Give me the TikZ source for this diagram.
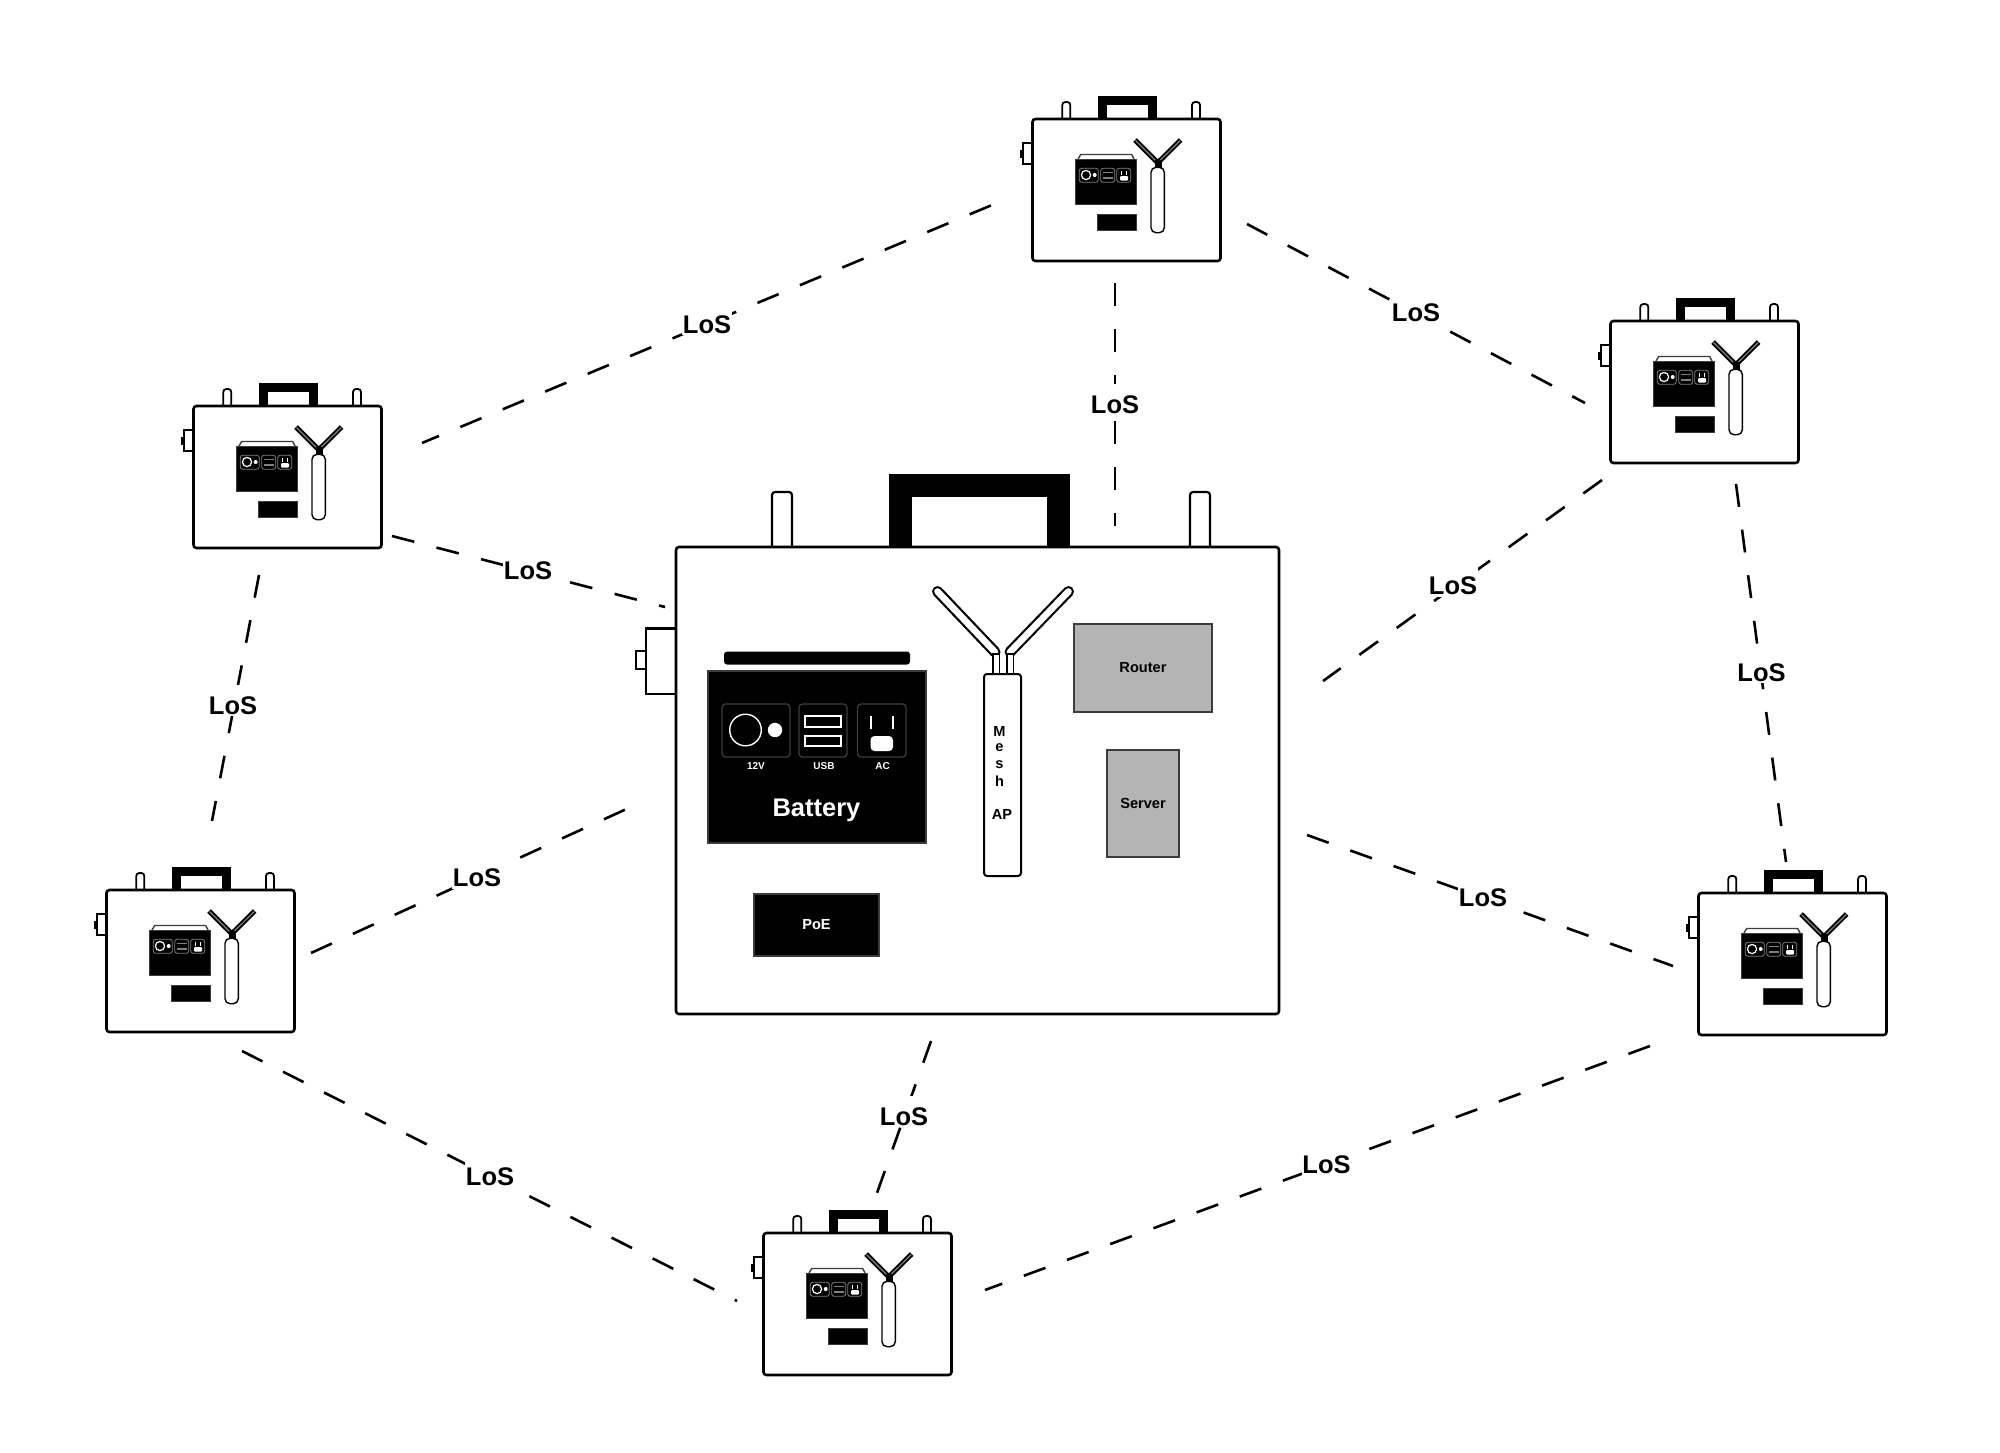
\documentclass[tikz,border=0pt]{standalone}
\usepackage{fontspec}
\setmainfont{Liberation Sans}
\usetikzlibrary{calc}
\newcommand{\fs}[1]{\fontsize{#1pt}{#1pt}\selectfont\bfseries}
\definecolor{panelgray}{HTML}{B4B4B4}
\definecolor{edgegray}{HTML}{3C3C3C}
\tikzset{
  x=1pt,y=-1pt,
  every node/.style={outer sep=0pt},
  shell/.style={draw=black,fill=white,line width=2.6pt,rounded corners=3pt,inner sep=0pt},
  solidbox/.style={draw=edgegray,fill=black,line width=1.6pt,inner sep=0pt},
  graybox/.style={draw=edgegray,fill=panelgray,line width=2pt,inner sep=0pt,text=black,font=\fs{14.6}},
  portbox/.style={draw=edgegray,line width=1.3pt,rounded corners=3.5pt},
  apbody/.style={draw=black,fill=white,line width=2pt,rounded corners=3pt,inner sep=0pt},
  link/.style={draw=black,line width=2.6pt,dash pattern=on 23pt off 23pt},
  loslabel/.style={fill=white,inner xsep=0.5pt,inner ysep=0pt,font=\fs{25.5},text=black,text height=29pt,text depth=2pt,yshift=4.5pt},
  portlabel/.style={text=white,inner sep=0pt,font=\fs{10}},
  % small field kit: origin is the top-left corner of the case
  pics/fieldkit/.style={code={
    \draw[draw=black,fill=white,line width=1.8pt,rounded corners=3pt] (30.3,3) -- (30.3,-17) -- (38.3,-17) -- (38.3,3);
    \draw[draw=black,fill=white,line width=1.8pt,rounded corners=3pt] (160,3) -- (160,-17) -- (168,-17) -- (168,3);
    \fill[black] (66,1) rectangle (125,-23);
    \fill[white] (75,1) rectangle (116,-14);
    \draw[draw=black,fill=white,line width=1.6pt] (-9,24) rectangle (0,45);
    \draw[draw=black,fill=black,line width=0.8pt] (-12,31) rectangle (-9,38);
    \node[shell,anchor=north west,minimum width=188pt,minimum height=142pt] (-case) at (0.5,0) {};
    \draw[draw=edgegray,line width=1.4pt] (46,40) -- (48.7,35.5) -- (99.7,35.5) -- (102,40);
    \node[solidbox,line width=0.8pt,anchor=north west,minimum width=60.3pt,minimum height=45.7pt] (-pack) at (43.7,40) {};
    \draw[draw=gray,line width=0.8pt,rounded corners=2.5pt] (47.3,49.3) rectangle (66.3,63.3);
    \draw[draw=gray,line width=0.8pt,rounded corners=2.5pt] (68.7,49.3) rectangle (82.7,63.3);
    \draw[draw=gray,line width=0.8pt,rounded corners=2.5pt] (84.7,49.3) rectangle (98.7,63.3);
    \draw[white,line width=1.2pt] (54,56) circle (4.6);
    \fill[white] (62.7,56) circle (2);
    \draw[gray,line width=1.2pt] (71,53.5) -- (80.5,53.5);
    \draw[gray,line width=1.2pt] (71,59) -- (80.5,59);
    \fill[white] (89,52) rectangle (90,55.5);
    \fill[white] (93.5,52) rectangle (94.5,55.5);
    \fill[white,rounded corners=1pt] (88,57) rectangle (96,61.5);
    \node[solidbox,line width=0.8pt,anchor=north west,minimum width=39pt,minimum height=15.7pt] (-poe) at (65.7,95.3) {};
    \draw[black,line width=5pt,line cap=butt] (103,21) -- (124.5,42.5);
    \draw[black,line width=5pt,line cap=butt] (148.7,21) -- (127,42.5);
    \draw[gray,line width=1.2pt] (103.5,21.5) -- (124.5,42.5);
    \draw[gray,line width=1.2pt] (148.2,21.5) -- (127,42.5);
    \fill[black] (122.5,41) rectangle (129.5,50);
    \node[apbody,line width=1.4pt,rounded corners=5pt,anchor=north west,minimum width=13.3pt,minimum height=65.4pt] (-ap) at (119,48.3) {};
  }}
}
\begin{document}
\begin{tikzpicture}
\useasboundingbox (0,0) rectangle (2000,1452);
\fill[white] (0,0) rectangle (2000,1452);

% outer ends of the line-of-sight links
\coordinate (a1) at (422,443);   \coordinate (a2) at (992,205);
\coordinate (b1) at (1247,224);  \coordinate (b2) at (1585,403);
\coordinate (c1) at (1115,283);  \coordinate (c2) at (1115,526);
\coordinate (d1) at (1602,480);  \coordinate (d2) at (1323,681);
\coordinate (e1) at (1736,484);  \coordinate (e2) at (1786,862);
\coordinate (f1) at (1307,835);  \coordinate (f2) at (1673,966);
\coordinate (g1) at (1650,1046); \coordinate (g2) at (985,1290);
\coordinate (h1) at (931,1041);  \coordinate (h2) at (877,1193);
\coordinate (i1) at (242,1051);  \coordinate (i2) at (737,1301);
\coordinate (j1) at (311,953);   \coordinate (j2) at (644,801);
\coordinate (k1) at (392,536);   \coordinate (k2) at (665,607);
\coordinate (l1) at (259,575);   \coordinate (l2) at (212,821);

% field kits around the central station
\pic (kita) at (1032,119) {fieldkit};
\pic (kitb) at (1610,321) {fieldkit};
\pic (kitc) at (193,406) {fieldkit};
\pic (kitd) at (106,890) {fieldkit};
\pic (kite) at (1698,893) {fieldkit};
\pic (kitf) at (763,1233) {fieldkit};

% central station: posts, handle and latch behind the case
\draw[draw=black,fill=white,line width=2.2pt,rounded corners=3pt] (772,550) -- (772,492) -- (792,492) -- (792,550);
\draw[draw=black,fill=white,line width=2.2pt,rounded corners=3pt] (1190,550) -- (1190,492) -- (1210,492) -- (1210,550);
\fill[black] (889,549) rectangle (1070,474);
\fill[white] (912,549) rectangle (1047,497);
\draw[draw=black,fill=white,line width=2.2pt] (646,628.5) rectangle (676,694);
\draw[draw=black,fill=white,line width=2pt] (636,651) rectangle (646,669);
\node[shell,minimum width=603pt,minimum height=467pt,anchor=north west] (main) at (676,547) {};

% battery pack
\node[draw=none,fill=black,rounded corners=3pt,minimum width=186pt,minimum height=13pt,inner sep=0pt] (bar) at (817,658) {};
\node[solidbox,minimum width=218pt,minimum height=172pt,anchor=north west] (pack) at (708,671) {};
\draw[portbox] (722,704) rectangle (790,757);
\draw[portbox] (799,704) rectangle (847,757);
\draw[portbox] (857.5,704) rectangle (906,757);
\draw[white,line width=1.4pt] (745.5,730) circle (15.8);
\fill[white] (775,730) circle (7.2);
\draw[draw=white,line width=2.2pt,fill=black] (805,716) rectangle (841,727);
\draw[draw=white,line width=2.2pt,fill=black] (805,736) rectangle (841,746);
\fill[white] (870,715.5) rectangle (872,729);
\fill[white] (892,715.5) rectangle (894,729);
\fill[white,rounded corners=4pt] (870.5,736) rectangle (893,751);
\node[portlabel] (l12v) at (756,766) {12V};
\node[portlabel] (lusb) at (824,766) {USB};
\node[portlabel] (lac) at (882.5,766) {AC};
\node[text=white,inner sep=0pt,font=\fs{25.5}] (lbat) at (816.5,810.5) {Battery};

% injector, router and server
\node[solidbox,text=white,font=\fs{14.6},minimum width=125pt,minimum height=62pt] (poe) at (816.5,925) {PoE};
\node[graybox,minimum width=138pt,minimum height=88pt] (router) at (1143,668) {Router};
\node[graybox,minimum width=72pt,minimum height=107pt] (server) at (1143,803.5) {Server};

% mesh access point with its two antennas
\draw[black,line width=11pt,line cap=round] (937.5,591.5) -- (995,652);
\draw[black,line width=11pt,line cap=round] (1068.5,591.5) -- (1010,652);
\draw[white,line width=6.6pt,line cap=round] (937.5,591.5) -- (995,652);
\draw[white,line width=6.6pt,line cap=round] (1068.5,591.5) -- (1010,652);
\draw[draw=black,fill=white,line width=1.8pt] (993,654) rectangle (999.5,676);
\draw[draw=black,fill=white,line width=1.8pt] (1007,654) rectangle (1013.5,676);
\node[apbody,minimum width=37pt,minimum height=202pt,anchor=north west] (ap) at (984,674) {};
\node[inner sep=0pt,font=\fs{14.6}] (lm) at (999.5,731) {M};
\node[inner sep=0pt,font=\fs{14.6}] (le) at (999.5,748) {e};
\node[inner sep=0pt,font=\fs{14.6}] (ls) at (999.5,765) {s};
\node[inner sep=0pt,font=\fs{14.6}] (lh) at (999.5,781) {h};
\node[inner sep=0pt,font=\fs{14.6}] (lap) at (1002,814) {AP};

% line-of-sight links
\draw[link,dash phase=4.5pt] (a1) -- (a2);
\draw[link] (b1) -- (b2);
\draw[link] (c1) -- (c2);
\draw[link] (d1) -- (d2);
\draw[link] (e1) -- (e2);
\draw[link] (f1) -- (f2);
\draw[link] (g1) -- (g2);
\draw[link] (h1) -- (h2);
\draw[link] (i1) -- (i2);
\draw[link] (j1) -- (j2);
\draw[link] (k1) -- (k2);
\draw[link] (l1) -- (l2);

\node[loslabel] (la) at (707,324) {LoS};
\node[loslabel] (lb) at (1416,312.5) {LoS};
\node[loslabel] (lc) at (1115,404) {LoS};
\node[loslabel] (ld) at (1453,585.5) {LoS};
\node[loslabel] (le2) at (1761.5,672) {LoS};
\node[loslabel] (lf) at (1483,897) {LoS};
\node[loslabel] (lg) at (1326.5,1164.5) {LoS};
\node[loslabel] (lh2) at (904,1116) {LoS};
\node[loslabel] (li) at (490,1176) {LoS};
\node[loslabel] (lj) at (477,877.5) {LoS};
\node[loslabel] (lk) at (528,570) {LoS};
\node[loslabel] (ll) at (233,705) {LoS};
\end{tikzpicture}
\end{document}
